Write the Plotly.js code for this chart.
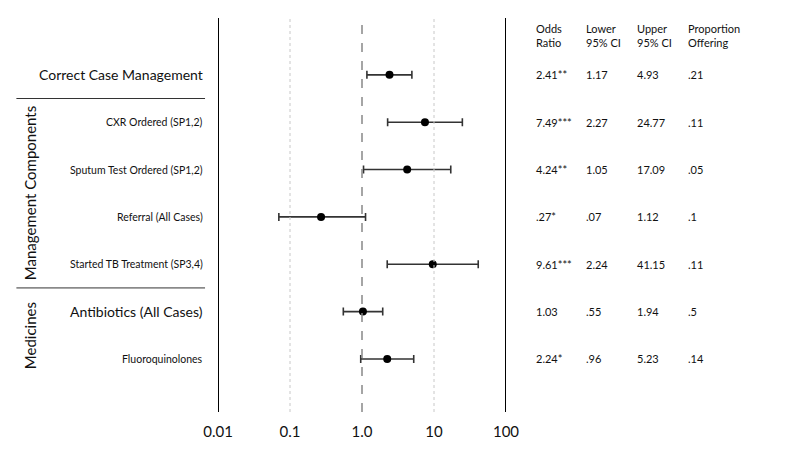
<!DOCTYPE html>
<html>
<head>
<meta charset="utf-8">
<script src="https://cdn.plot.ly/plotly-3.0.1.min.js"></script>
<style>html,body{margin:0;padding:0;background:#fff;}#chart{width:800px;height:458px;}</style>
</head>
<body>
<div id="chart"></div>
<script>
// ---- data ----
var labels = ["Correct Case Management", "CXR Ordered (SP1,2)", "Sputum Test Ordered (SP1,2)", "Referral (All Cases)", "Started TB Treatment (SP3,4)", "Antibiotics (All Cases)", "Fluoroquinolones"];
var labelSizes = [14, 10.5, 10.5, 10.5, 10.5, 14, 10.5];
var oddsRatio = [2.41, 7.49, 4.24, 0.27, 9.61, 1.03, 2.24];
var lowerCI = [1.17, 2.27, 1.05, 0.07, 2.24, 0.55, 0.96];
var upperCI = [4.93, 24.77, 17.09, 1.12, 41.15, 1.94, 5.23];
var orText = ["2.41**", "7.49***", "4.24**", ".27*", "9.61***", "1.03", "2.24*"];
var lowerText = ["1.17", "2.27", "1.05", ".07", "2.24", ".55", ".96"];
var upperText = ["4.93", "24.77", "17.09", "1.12", "41.15", "1.94", "5.23"];
var propText = [".21", ".11", ".05", ".1", ".11", ".5", ".14"];
var headers = ["Odds<br>Ratio", "Lower<br>95% CI", "Upper<br>95% CI", "Proportion<br>Offering"];
var tickVals = [0.01, 0.1, 1, 10, 100];
var tickText = ["0.01", "0.1", "1.0", "10", "100"];
var groups = [{name: "Management Components", center: 2.5}, {name: "Medicines", center: 5.5}];
var separators = [0.5, 4.5];

// ---- build ----
var rows = labels.map(function(_, i){ return i; });
var FONT = "Lato, 'Liberation Sans', sans-serif";

var trace = {
  type: "scatter", mode: "markers",
  x: oddsRatio, y: rows,
  marker: {color: "#000", size: 8},
  error_x: {
    type: "data", symmetric: false,
    array: upperCI.map(function(u, i){ return u - oddsRatio[i]; }),
    arrayminus: lowerCI.map(function(l, i){ return oddsRatio[i] - l; }),
    color: "#333", thickness: 1.6, width: 4
  },
  hoverinfo: "skip", showlegend: false
};

var annotations = [];
labels.forEach(function(t, i){
  annotations.push({xref: "paper", yref: "y", x: -0.045, y: i, text: t, showarrow: false,
    xanchor: "right", yanchor: "middle", font: {family: FONT, size: labelSizes[i], color: "#111"}});
});
var cols = [orText, lowerText, upperText, propText];
var colX = [1.097, 1.271, 1.448, 1.625];
cols.forEach(function(col, c){
  col.forEach(function(t, i){
    annotations.push({xref: "paper", yref: "y", x: colX[c], y: i, text: t, showarrow: false,
      xanchor: "left", yanchor: "middle", font: {family: FONT, size: 11, color: "#111"}});
  });
  annotations.push({xref: "paper", yref: "y", x: colX[c], y: -0.84, text: headers[c], showarrow: false,
    xanchor: "left", yanchor: "middle", align: "left", font: {family: FONT, size: 11, color: "#111"}});
});
groups.forEach(function(g){
  annotations.push({xref: "paper", yref: "y", x: -0.653, y: g.center, text: g.name, showarrow: false,
    textangle: -90, xanchor: "center", yanchor: "middle", font: {family: FONT, size: 15, color: "#111"}});
});

var shapes = [];
[0.01, 100].forEach(function(v){
  shapes.push({type: "line", xref: "x", yref: "paper", x0: v, x1: v, y0: 0, y1: 1, line: {color: "#000", width: 2}});
});
[0.1, 10].forEach(function(v){
  shapes.push({type: "line", xref: "x", yref: "paper", x0: v, x1: v, y0: 0, y1: 1, line: {color: "#c8c8c8", width: 1, dash: "dot"}});
});
shapes.push({type: "line", xref: "x", yref: "paper", x0: 1, x1: 1, y0: 0, y1: 1, line: {color: "#888", width: 1.5, dash: "dash"}});
separators.forEach(function(s){
  shapes.push({type: "line", xref: "paper", yref: "y", x0: -0.70, x1: -0.045, y0: s, y1: s, line: {color: "#333", width: 1}});
});

var layout = {
  width: 800, height: 458,
  margin: {l: 218, r: 294, t: 18, b: 46},
  paper_bgcolor: "#fff", plot_bgcolor: "#fff",
  xaxis: {type: "log", range: [-2, 2], tickvals: tickVals, ticktext: tickText, showgrid: false, zeroline: false,
    showline: false, ticks: "outside", ticklen: 6, tickcolor: "rgba(0,0,0,0)",
    tickfont: {family: FONT, size: 15, color: "#111"}},
  yaxis: {range: [7.12, -1.2], showgrid: false, zeroline: false, showticklabels: false, showline: false},
  annotations: annotations, shapes: shapes
};
Plotly.newPlot("chart", [trace], layout, {staticPlot: true, displayModeBar: false});
</script>
</body>
</html>
